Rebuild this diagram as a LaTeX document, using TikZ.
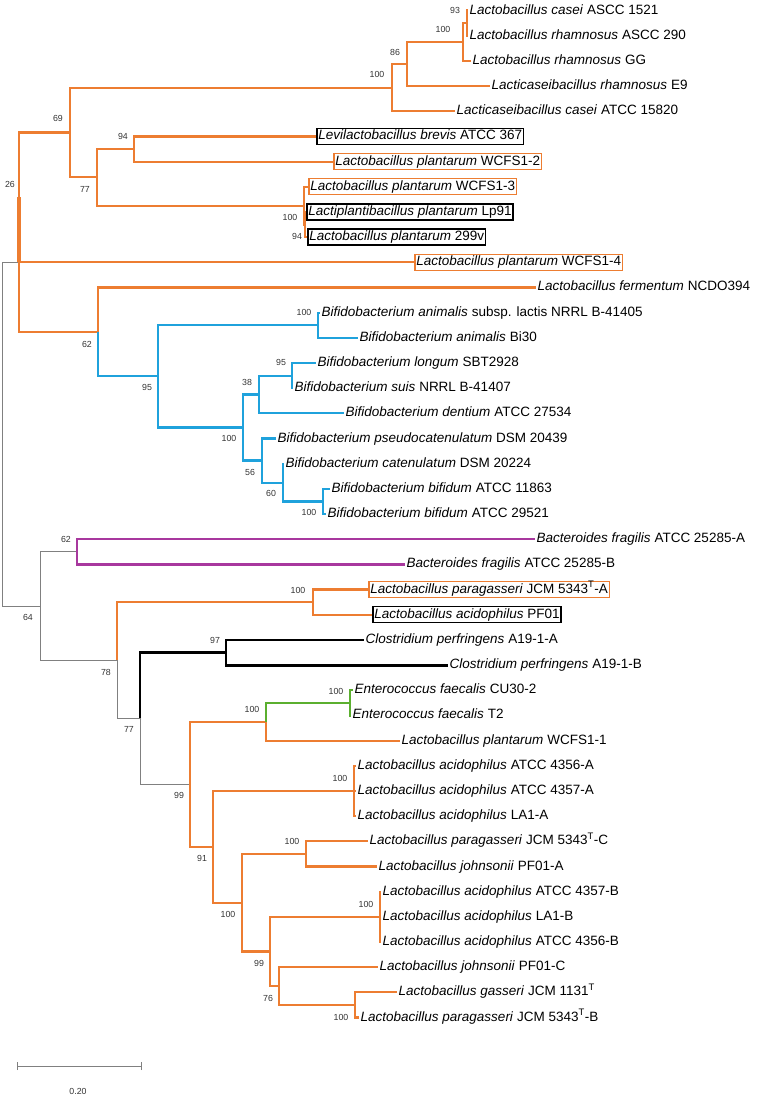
\documentclass[tikz,border=0pt]{standalone}
\usepackage{fontspec}
\setmainfont{Liberation Sans}
\definecolor{orC}{HTML}{ED7D31}
\definecolor{blC}{HTML}{1FA2DC}
\definecolor{puC}{HTML}{A8389E}
\definecolor{grC}{HTML}{5BAF2F}
\definecolor{gyC}{HTML}{808080}
\newcommand\leaffont{\fontsize{13.5}{16}\selectfont}
\newcommand\bsfont{\fontsize{8.8}{10}\selectfont}
\tikzset{
  leaf/.style={anchor=west, inner xsep=1.5pt, inner ysep=1.5pt, text height=10pt, text depth=3pt, font=\leaffont},
  boxo/.style={leaf, draw=orC, line width=1.5pt},
  boxk/.style={leaf, draw=black, line width=1.5pt},
  bs/.style={font=\bsfont, text=black!80, inner sep=0pt},
  eo/.style={draw=orC, line width=2.2pt},
  eb/.style={draw=blC, line width=2.2pt},
  ep/.style={draw=puC, line width=2.2pt},
  eg/.style={draw=grC, line width=2.2pt},
  ek/.style={draw=black, line width=2.8pt},
  egr/.style={draw=gyC, line width=0.8pt},
}
\begin{document}
\begin{tikzpicture}[x=1pt,y=-1pt]
\useasboundingbox (0,0) rectangle (756,1096);
% internal nodes
\coordinate (R) at (2,434);
\coordinate (N26) at (19,262.3);
\coordinate (N69) at (70,132.5);
\coordinate (N100a) at (392,87.6);
\coordinate (N86) at (407,64);
\coordinate (N100b) at (463,42);
\coordinate (N93) at (467,23);
\coordinate (N77a) at (97,177.3);
\coordinate (N94a) at (134,149);
\coordinate (N100c) at (304,205.6);
\coordinate (N94b) at (305,224.5);
\coordinate (N62a) at (98,331.9);
\coordinate (N95a) at (158,376.3);
\coordinate (N100d) at (318,325.2);
\coordinate (N100e) at (243,427.5);
\coordinate (N38) at (259,394.4);
\coordinate (N95b) at (292,375.6);
\coordinate (N56) at (262,460.5);
\coordinate (N60) at (283,482.6);
\coordinate (N100f) at (323,501.4);
\coordinate (N64) at (40,606);
\coordinate (N62b) at (77,551.8);
\coordinate (N78) at (117,660.2);
\coordinate (N100g) at (313,602.1);
\coordinate (N77b) at (140,718.4);
\coordinate (N97) at (226,652.5);
\coordinate (N99a) at (190,784.3);
\coordinate (N100h) at (266,721.7);
\coordinate (N100i) at (350,702.8);
\coordinate (N91) at (213,846.8);
\coordinate (N100j) at (354,791);
\coordinate (N100k) at (242,902.7);
\coordinate (N100l) at (306,853.9);
\coordinate (N99b) at (270,951.4);
\coordinate (N100m) at (380,916.8);
\coordinate (N76) at (279,986);
\coordinate (N100n) at (355,1004.9);
% leaves
\node[leaf] (L0) at (468,10.5) {\textit{Lactobacillus casei} ASCC 1521};
\node[leaf] (L1) at (468,35.7) {\textit{Lactobacillus rhamnosus} ASCC 290};
\node[leaf] (L2) at (471,60.9) {\textit{Lactobacillus rhamnosus} GG};
\node[leaf] (L3) at (490,86.0) {\textit{Lacticaseibacillus rhamnosus} E9};
\node[leaf] (L4) at (455,111.2) {\textit{Lacticaseibacillus casei} ATCC 15820};
\node[boxk] (L5) at (316,136.4) {\textit{Levilactobacillus brevis} ATCC 367};
\node[boxo] (L6) at (333,161.6) {\textit{Lactobacillus plantarum} WCFS1-2};
\node[boxo] (L7) at (308,186.7) {\textit{Lactobacillus plantarum} WCFS1-3};
\node[boxk] (L8) at (306,211.9) {\textit{Lactiplantibacillus plantarum} Lp91};
\node[boxk] (L9) at (307,237.1) {\textit{Lactobacillus plantarum} 299v};
\node[boxo] (L10) at (414,262.3) {\textit{Lactobacillus plantarum} WCFS1-4};
\node[leaf] (L11) at (536,287.4) {\textit{Lactobacillus fermentum} NCDO394};
\node[leaf] (L12) at (320,312.6) {\textit{Bifidobacterium animalis} subsp. lactis NRRL B-41405};
\node[leaf] (L13) at (358,337.8) {\textit{Bifidobacterium animalis} Bi30};
\node[leaf] (L14) at (316,363.0) {\textit{Bifidobacterium longum} SBT2928};
\node[leaf] (L15) at (293,388.1) {\textit{Bifidobacterium suis} NRRL B-41407};
\node[leaf] (L16) at (344,413.3) {\textit{Bifidobacterium dentium} ATCC 27534};
\node[leaf] (L17) at (276,438.5) {\textit{Bifidobacterium pseudocatenulatum} DSM 20439};
\node[leaf] (L18) at (284,463.7) {\textit{Bifidobacterium catenulatum} DSM 20224};
\node[leaf] (L19) at (330,488.8) {\textit{Bifidobacterium bifidum} ATCC 11863};
\node[leaf] (L20) at (326,514.0) {\textit{Bifidobacterium bifidum} ATCC 29521};
\node[leaf] (L21) at (535,539.2) {\textit{Bacteroides fragilis} ATCC 25285-A};
\node[leaf] (L22) at (405,564.4) {\textit{Bacteroides fragilis} ATCC 25285-B};
\node[boxo] (L23) at (368,589.5) {\textit{Lactobacillus paragasseri} JCM 5343\textsuperscript{T}-A};
\node[boxk] (L24) at (372,614.7) {\textit{Lactobacillus acidophilus} PF01};
\node[leaf] (L25) at (364,639.9) {\textit{Clostridium perfringens} A19-1-A};
\node[leaf] (L26) at (448,665.1) {\textit{Clostridium perfringens} A19-1-B};
\node[leaf] (L27) at (353,690.2) {\textit{Enterococcus faecalis} CU30-2};
\node[leaf] (L28) at (351,715.4) {\textit{Enterococcus faecalis} T2};
\node[leaf] (L29) at (400,740.6) {\textit{Lactobacillus plantarum} WCFS1-1};
\node[leaf] (L30) at (356,765.8) {\textit{Lactobacillus acidophilus} ATCC 4356-A};
\node[leaf] (L31) at (356,790.9) {\textit{Lactobacillus acidophilus} ATCC 4357-A};
\node[leaf] (L32) at (356,816.1) {\textit{Lactobacillus acidophilus} LA1-A};
\node[leaf] (L33) at (368,841.3) {\textit{Lactobacillus paragasseri} JCM 5343\textsuperscript{T}-C};
\node[leaf] (L34) at (377,866.5) {\textit{Lactobacillus johnsonii} PF01-A};
\node[leaf] (L35) at (381,891.6) {\textit{Lactobacillus acidophilus} ATCC 4357-B};
\node[leaf] (L36) at (381,916.8) {\textit{Lactobacillus acidophilus} LA1-B};
\node[leaf] (L37) at (381,942.0) {\textit{Lactobacillus acidophilus} ATCC 4356-B};
\node[leaf] (L38) at (378,967.2) {\textit{Lactobacillus johnsonii} PF01-C};
\node[leaf] (L39) at (397,992.3) {\textit{Lactobacillus gasseri} JCM 1131\textsuperscript{T}};
\node[leaf] (L40) at (359,1017.5) {\textit{Lactobacillus paragasseri} JCM 5343\textsuperscript{T}-B};
% edges: root
\draw[egr] (R) |- (N26);
\draw[egr] (R) |- (N64);
% top orange clade
\draw[eo] (N26) |- (N69);
\draw[eo] (N26) |- (L10.west);
\draw[eo] (N26) |- (N62a);
\draw[draw=orC, line width=4.5pt] (19,197) -- (N26);
\draw[eo] (N69) |- (N100a);
\draw[eo] (N69) |- (N77a);
\draw[eo] (N100a) |- (N86);
\draw[eo] (N100a) |- (L4.west);
\draw[eo] (N86) |- (N100b);
\draw[eo] (N86) |- (L3.west);
\draw[eo] (N100b) |- (N93);
\draw[eo] (N100b) |- (L2.west);
\draw[eo] (N93) |- (L0.west);
\draw[eo] (N93) |- (L1.west);
\draw[eo] (N77a) |- (N94a);
\draw[eo] (N77a) |- (N100c);
\draw[eo] (N94a) |- (L5.west);
\draw[eo] (N94a) |- (L6.west);
\draw[eo] (N100c) |- (L7.west);
\draw[eo] (N100c) |- (N94b);
\draw[eo] (N94b) |- (L8.west);
\draw[eo] (N94b) |- (L9.west);
\draw[eo] (N62a) |- (L11.west);
% blue clade
\draw[eb] (N62a) |- (N95a);
\draw[eb] (N95a) |- (N100d);
\draw[eb] (N95a) |- (N100e);
\draw[eb] (N100d) |- (L12.west);
\draw[eb] (N100d) |- (L13.west);
\draw[eb] (N100e) |- (N38);
\draw[eb] (N100e) |- (N56);
\draw[eb] (N38) |- (N95b);
\draw[eb] (N38) |- (L16.west);
\draw[eb] (N95b) |- (L14.west);
\draw[eb] (N95b) |- (L15.west);
\draw[eb] (N56) |- (L17.west);
\draw[eb] (N56) |- (N60);
\draw[eb] (N60) |- (L18.west);
\draw[eb] (N60) |- (N100f);
\draw[eb] (N100f) |- (L19.west);
\draw[eb] (N100f) |- (L20.west);
% lower part
\draw[egr] (N64) |- (N62b);
\draw[egr] (N64) |- (N78);
\draw[ep] (N62b) |- (L21.west);
\draw[ep] (N62b) |- (L22.west);
\draw[eo] (N78) |- (N100g);
\draw[egr] (N78) |- (N77b);
\draw[eo] (N100g) |- (L23.west);
\draw[eo] (N100g) |- (L24.west);
\draw[ek] (N77b) |- (N97);
\draw[egr] (N77b) |- (N99a);
\draw[ek] (N97) |- (L25.west);
\draw[ek] (N97) |- (L26.west);
\draw[eo] (N99a) |- (N100h);
\draw[eo] (N99a) |- (N91);
\draw[eg] (N100h) |- (N100i);
\draw[eo] (N100h) |- (L29.west);
\draw[eg] (N100i) |- (L27.west);
\draw[eg] (N100i) |- (L28.west);
\draw[eo] (N91) |- (N100j);
\draw[eo] (N91) |- (N100k);
\draw[eo] (N100j) |- (L30.west);
\draw[eo] (N100j) |- (L31.west);
\draw[eo] (N100j) |- (L32.west);
\draw[eo] (N100k) |- (N100l);
\draw[eo] (N100k) |- (N99b);
\draw[eo] (N100l) |- (L33.west);
\draw[eo] (N100l) |- (L34.west);
\draw[eo] (N99b) |- (N100m);
\draw[eo] (N99b) |- (N76);
\draw[eo] (N100m) |- (L35.west);
\draw[eo] (N100m) |- (L36.west);
\draw[eo] (N100m) |- (L37.west);
\draw[eo] (N76) |- (L38.west);
\draw[eo] (N76) |- (N100n);
\draw[eo] (N100n) |- (L39.west);
\draw[eo] (N100n) |- (L40.west);
% bootstrap values
\node[bs] (b1) at (455,10) {93};
\node[bs] (b2) at (443,29) {100};
\node[bs] (b3) at (395,52) {86};
\node[bs] (b4) at (377,74) {100};
\node[bs] (b5) at (58,118) {69};
\node[bs] (b6) at (123,136) {94};
\node[bs] (b7) at (85,189) {77};
\node[bs] (b8) at (290,217) {100};
\node[bs] (b9) at (297,236) {94};
\node[bs] (b10) at (10,184) {26};
\node[bs] (b11) at (87,344) {62};
\node[bs] (b12) at (147,387) {95};
\node[bs] (b13) at (304,312) {100};
\node[bs] (b14) at (281,362) {95};
\node[bs] (b15) at (247,382) {38};
\node[bs] (b16) at (229,438) {100};
\node[bs] (b17) at (250,472) {56};
\node[bs] (b18) at (271,493) {60};
\node[bs] (b19) at (309,512) {100};
\node[bs] (b20) at (66,539) {62};
\node[bs] (b21) at (28,617) {64};
\node[bs] (b22) at (298,590) {100};
\node[bs] (b23) at (106,672) {78};
\node[bs] (b24) at (215,640) {97};
\node[bs] (b25) at (129,729) {77};
\node[bs] (b26) at (336,691) {100};
\node[bs] (b27) at (252,709) {100};
\node[bs] (b28) at (179,795) {99};
\node[bs] (b29) at (340,778) {100};
\node[bs] (b30) at (202,858) {91};
\node[bs] (b31) at (292,841) {100};
\node[bs] (b32) at (228,914) {100};
\node[bs] (b33) at (366,904) {100};
\node[bs] (b34) at (259,963) {99};
\node[bs] (b35) at (268,998) {76};
\node[bs] (b36) at (341,1017) {100};
% scale bar
\coordinate (s1) at (17,1066);
\coordinate (s2) at (141,1066);
\draw[egr] (s1) -- (s2);
\draw[egr] ([yshift=-4pt]s1) -- ([yshift=4pt]s1);
\draw[egr] ([yshift=-4pt]s2) -- ([yshift=4pt]s2);
\node[bs] (sl) at (78,1091) {0.20};
\end{tikzpicture}
\end{document}
